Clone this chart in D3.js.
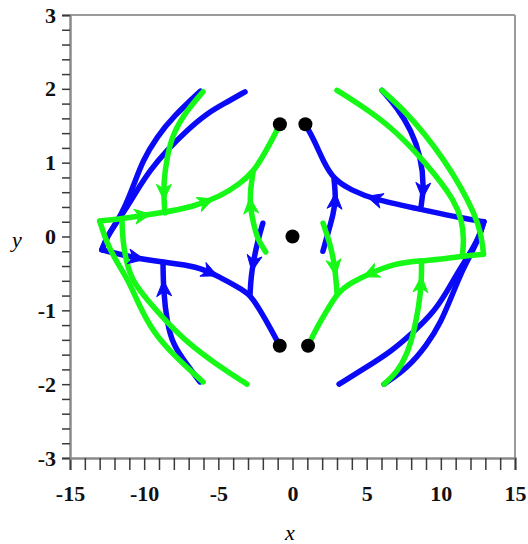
<!DOCTYPE html>
<html><head><meta charset="utf-8">
<script src="https://cdn.jsdelivr.net/npm/d3@7"></script>
<style>body{margin:0;background:#fff}svg{display:block}</style>
</head><body><svg id="c" width="528" height="544"></svg>
<script>
// ---- data ----
const xTickLabels = [-15, -10, -5, 0, 5, 10, 15];
const yTickLabels = [-3, -2, -1, 0, 1, 2, 3];
const equilibria = [[-0.85, 1.52], [0.87, 1.52], [0, 0], [-0.86, -1.48], [1.05, -1.48]];

// blue trajectories
const blueTopLeftOuter = [[-6.2,1.97],[-8.06,1.62],[-9.13,1.35],[-10.08,1.04],[-10.75,0.67],[-11.3,0.4],[-11.83,0.2],[-12.5,0.0],[-12.85,-0.18]];
const blueTopLeftInner = [[-3.2,1.96],[-4.42,1.82],[-5.76,1.67],[-7.11,1.44],[-8.46,1.17],[-9.6,0.9],[-10.48,0.625],[-11.16,0.4],[-11.83,0.2],[-12.5,0.0],[-12.85,-0.18]];
const blueLowerLeftPath = [[-12.85,-0.18],[-10.95,-0.28],[-8.73,-0.35],[-6.44,-0.4],[-4.89,-0.55],[-3.74,-0.68],[-2.86,-0.78],[-2.19,-1.0],[-1.52,-1.23],[-0.86,-1.48]];
const blueBottomLeftRise = [[-6.24,-1.97],[-7.1,-1.74],[-8.06,-1.47],[-8.46,-1.16],[-8.7,-0.75],[-8.73,-0.35]];
const blueLeftCenter = [[-2.0,0.18],[-2.33,-0.05],[-2.6,-0.3],[-2.8,-0.55],[-2.86,-0.78]];
const blueUpperRightPath = [[12.9,0.2],[11.36,0.25],[8.39,0.38],[5.49,0.5],[3.94,0.63],[2.8,0.77],[2.12,1.0],[1.45,1.31],[0.87,1.52]];
const blueTopRightFall = [[6.03,1.98],[7.05,1.75],[8.0,1.44],[8.66,1.08],[8.87,0.67],[8.66,0.4]];
const blueRightCenter = [[2.05,-0.2],[2.4,0.05],[2.75,0.3],[2.93,0.52],[2.8,0.77]];
const blueBottomRightOuter = [[6.17,-2.0],[7.72,-1.79],[9.07,-1.47],[10.01,-1.16],[10.75,-0.8],[11.35,-0.5],[12.0,-0.25],[12.6,0.0],[12.9,0.2]];
const blueBottomRightInner = [[3.14,-2.0],[4.82,-1.79],[6.64,-1.56],[8.19,-1.29],[9.54,-1.02],[10.4,-0.75],[11.1,-0.5],[11.9,-0.25],[12.6,0.0],[12.9,0.2]];

// green trajectories
const greenTopLeftFall = [[-6.03,1.96],[-7.11,1.71],[-8.06,1.4],[-8.46,1.08],[-8.7,0.72],[-8.65,0.45],[-8.6,0.32]];
const greenUpperLeftPath = [[-13.0,0.21],[-11.2,0.25],[-8.9,0.32],[-6.7,0.4],[-4.9,0.54],[-3.5,0.72],[-2.65,0.88],[-2.1,1.05],[-1.4,1.3],[-0.85,1.52]];
const greenLeftCenter = [[-1.8,-0.21],[-2.33,-0.05],[-2.6,0.15],[-2.86,0.4],[-2.85,0.62],[-2.65,0.88]];
const greenBottomLeftOuter = [[-6.03,-1.97],[-8.06,-1.6],[-9.4,-1.29],[-10.3,-0.95],[-11.0,-0.62],[-11.83,-0.35],[-12.5,-0.1],[-13.0,0.21]];
const greenBottomLeftInner = [[-3.07,-2.0],[-5.36,-1.7],[-7.11,-1.43],[-8.46,-1.16],[-9.8,-0.86],[-10.8,-0.6],[-11.2,-0.35],[-11.45,-0.05],[-11.5,0.24]];
const greenTopRightOuter = [[6.03,1.98],[7.52,1.71],[8.87,1.4],[10.21,1.04],[11.36,0.67],[12.24,0.32],[12.71,0.05],[12.88,-0.24]];
const greenTopRightInner = [[3.0,1.98],[4.82,1.75],[6.64,1.48],[8.19,1.17],[9.74,0.81],[10.89,0.49],[11.43,0.22],[11.56,-0.05],[11.45,-0.27]];
const greenLowerRightPath = [[12.88,-0.24],[11.76,-0.26],[9.94,-0.31],[8.6,-0.33],[6.78,-0.37],[5.23,-0.5],[3.88,-0.63],[3.0,-0.77],[2.33,-1.0],[1.65,-1.23],[1.05,-1.48]];
const greenBottomRightRise = [[6.17,-2.0],[7.05,-1.84],[7.72,-1.6],[8.19,-1.29],[8.53,-0.93],[8.7,-0.62],[8.7,-0.33]];
const greenRightCenter = [[2.06,0.18],[2.53,-0.09],[2.87,-0.41],[3.0,-0.77]];

// arrow heads: [trajectory, x, y] (direction follows trajectory order)
const arrowMarks = [
  ["greenUpperLeftPath",-10.1,0.29],["greenUpperLeftPath",-5.8,0.46],
  ["greenTopLeftFall",-8.68,0.6],["greenLeftCenter",-2.86,0.42],
  ["blueLowerLeftPath",-10.5,-0.27],["blueLowerLeftPath",-5.5,-0.47],
  ["blueBottomLeftRise",-8.7,-0.7],["blueLeftCenter",-2.8,-0.36],
  ["blueUpperRightPath",5.5,0.5],["blueTopRightFall",8.85,0.62],["blueRightCenter",2.9,0.48],
  ["greenLowerRightPath",5.23,-0.5],["greenBottomRightRise",8.7,-0.65],["greenRightCenter",2.87,-0.42]
];

const blueCurves = {blueTopLeftOuter, blueTopLeftInner, blueLowerLeftPath, blueBottomLeftRise, blueLeftCenter,
  blueUpperRightPath, blueTopRightFall, blueRightCenter, blueBottomRightOuter, blueBottomRightInner};
const greenCurves = {greenTopLeftFall, greenUpperLeftPath, greenLeftCenter, greenBottomLeftOuter, greenBottomLeftInner,
  greenTopRightOuter, greenTopRightInner, greenLowerRightPath, greenBottomRightRise, greenRightCenter};

// ---- drawing ----
const BLUE = "#0a0af8", GREEN = "#16f816";
const svg = d3.select("#c");
const x = d3.scaleLinear().domain([-15, 15]).range([70, 515]);
const y = d3.scaleLinear().domain([-3, 3]).range([458, 15]);

// frame
svg.append("line").attr("x1", x(-15)).attr("x2", x(15)).attr("y1", y(3)).attr("y2", y(3))
  .attr("stroke", "#9a9a9a").attr("stroke-width", 2);
svg.append("line").attr("x1", x(15)).attr("x2", x(15)).attr("y1", y(3)).attr("y2", y(-3))
  .attr("stroke", "#9a9a9a").attr("stroke-width", 2);

const fontLab = "'Liberation Serif','Times New Roman',serif";
const xTicks = d3.range(-15, 16, 1);
const yTicks = d3.range(-30, 31, 2).map(v => v / 10);

const gx = svg.append("g").attr("transform", `translate(0,${y(-3)})`)
  .call(d3.axisBottom(x).tickValues(xTicks).tickSize(12).tickPadding(15)
    .tickFormat(d => xTickLabels.includes(d) ? String(d) : ""));
const gy = svg.append("g").attr("transform", `translate(${x(-15)},0)`)
  .call(d3.axisLeft(y).tickValues(yTicks).tickSize(8).tickPadding(6)
    .tickFormat(d => yTickLabels.some(v => Math.abs(v - d) < 1e-9) ? String(Math.round(d)) : ""));
[gx, gy].forEach(g => {
  g.select(".domain").attr("stroke", "#8a8a8a").attr("stroke-width", 2.5);
  g.selectAll(".tick line").attr("stroke", "#3a3a3a").attr("stroke-width", 1.5);
  g.selectAll("text").attr("font-family", fontLab).attr("font-weight", "bold")
    .attr("font-size", 22).attr("fill", "#111");
});

svg.append("text").attr("x", 290).attr("y", 540).attr("text-anchor", "middle")
  .attr("font-family", fontLab).attr("font-style", "italic").attr("font-size", 22).text("x");
svg.append("text").attr("x", 17).attr("y", 247).attr("text-anchor", "middle")
  .attr("font-family", fontLab).attr("font-style", "italic").attr("font-size", 22).text("y");

const line = d3.line().x(d => x(d[0])).y(d => y(d[1])).curve(d3.curveBasis);
const paths = {};
function drawCurves(obj, color) {
  Object.entries(obj).forEach(([name, pts]) => {
    paths[name] = svg.append("path").attr("d", line(pts)).attr("fill", "none")
      .attr("stroke", color).attr("stroke-width", 5.5)
      .attr("stroke-linecap", "round").attr("stroke-linejoin", "round");
    paths[name].color = color;
  });
}
drawCurves(blueCurves, BLUE);
drawCurves(greenCurves, GREEN);

// arrow heads
arrowMarks.forEach(([name, ax, ay]) => {
  const p = paths[name], node = p.node(), L = node.getTotalLength();
  const px = x(ax), py = y(ay);
  let best = 0, bd = Infinity;
  for (let s = 0; s <= L; s += 0.5) {
    const q = node.getPointAtLength(s);
    const dd = (q.x - px) ** 2 + (q.y - py) ** 2;
    if (dd < bd) { bd = dd; best = s; }
  }
  const a = node.getPointAtLength(Math.max(0, best - 3)), b = node.getPointAtLength(Math.min(L, best + 3));
  const m = node.getPointAtLength(best);
  let dx = b.x - a.x, dy = b.y - a.y; const n = Math.hypot(dx, dy); dx /= n; dy /= n;
  const nx = -dy, ny = dx;
  const tip = [m.x + dx * 8, m.y + dy * 8];
  const back = [m.x - dx * 8, m.y - dy * 8];
  const notch = [m.x - dx * 3.5, m.y - dy * 3.5];
  const w1 = [back[0] + nx * 7.5, back[1] + ny * 7.5];
  const w2 = [back[0] - nx * 7.5, back[1] - ny * 7.5];
  svg.append("path").attr("d", `M${tip}L${w1}L${notch}L${w2}Z`).attr("fill", p.color)
    .attr("stroke", p.color).attr("stroke-width", 1).attr("stroke-linejoin", "round");
});

// equilibrium points
svg.selectAll("circle.eq").data(equilibria).join("circle").attr("class", "eq")
  .attr("cx", d => x(d[0])).attr("cy", d => y(d[1])).attr("r", 7).attr("fill", "#000");
</script></body></html>
